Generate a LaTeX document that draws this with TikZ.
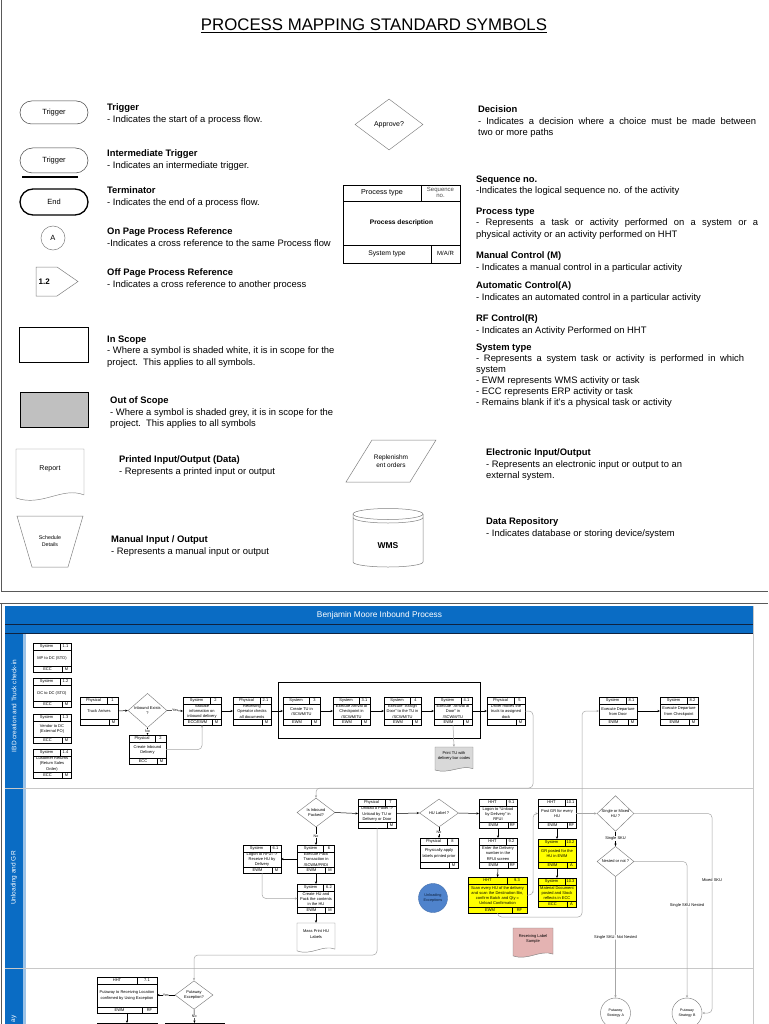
\documentclass[tikz,border=0pt]{standalone}
\usepackage{fontspec}
\setmainfont{Liberation Sans}
\usetikzlibrary{shapes.geometric,arrows.meta,calc}

\definecolor{hdrblue}{HTML}{0A6CC4}
\definecolor{navy}{HTML}{10233F}
\definecolor{lightblue}{HTML}{9CC3E8}
\definecolor{oosgray}{HTML}{C0C0C0}
\definecolor{boxyellow}{HTML}{FFFF00}
\definecolor{pinkdoc}{HTML}{E4B3B2}
\definecolor{excblue}{HTML}{4F83CC}
\definecolor{conngray}{HTML}{A6A6A6}
\definecolor{framec}{HTML}{595959}
\definecolor{lanesep}{HTML}{C8C8C8}
\definecolor{docgray}{HTML}{D9D9D9}

\newcommand{\tf}{\fontsize{4}{5.1}\selectfont}
\newcommand{\lf}{\fontsize{9.4}{11.6}\selectfont}

\tikzset{
  pframe/.style={draw=black, line width=0.45pt, inner sep=0pt, outer sep=0pt},
  pline/.style={draw=black, line width=0.45pt},
  tlabel/.style={font=\tf, inner sep=0pt, align=center},
  arr/.style={-{Stealth[length=2.6pt,width=2.2pt]}, line width=0.5pt},
  garr/.style={-{Stealth[length=2.6pt,width=2.2pt]}, draw=conngray, line width=0.5pt, rounded corners=4pt},
  decn/.style={diamond, draw=gray, line width=0.45pt, inner sep=0pt, font=\tf, align=center, fill=white},
  ylab/.style={font=\fontsize{3.6}{4.2}\selectfont, fill=white, inner sep=0.4pt},
  glab/.style={font=\fontsize{4}{4.8}\selectfont, fill=white, inner sep=0.5pt},
  lgtext/.style={font=\lf, anchor=north west, align=left, inner sep=0pt},
  lgshape/.style={draw=black!75, line width=0.5pt, inner sep=0pt, fill=white, font=\fontsize{7.5}{9}\selectfont},
  lgline/.style={draw=black!75, line width=0.5pt},
  docb/.style={draw=gray, line width=0.45pt},
  pcirc/.style={circle, draw=gray, fill=white, line width=0.45pt, inner sep=0pt, minimum size=30pt, font=\fontsize{3.6}{4.3}\selectfont, align=center}
}

% process box frame: [fill]{name}{x1}{y1}{x2}{y2}
\newcommand{\pboxat}[6][white]{%
  \pgfmathsetmacro{\bwid}{#5-#3}%
  \pgfmathsetmacro{\sw}{\bwid>45 ? 20 : 11}%
  \pgfmathsetmacro{\bw}{\bwid>45 ? 15 : 9}%
  \pgfmathsetmacro{\swh}{\sw/2}%
  \pgfmathsetmacro{\bwh}{\bw/2}%
  \node[pframe, fill=#1, minimum width=\bwid pt, minimum height={(#6-#4)*1pt}] (#2) at ({(#3+#5)/2},{(#4+#6)/2}) {};
  \draw[pline] ([yshift=-7pt]#2.north west) -- ([yshift=-7pt]#2.north east);
  \draw[pline] ([xshift=-\sw pt]#2.north east) -- ([xshift=-\sw pt,yshift=-7pt]#2.north east);
  \draw[pline] ([yshift=6pt]#2.south west) -- ([yshift=6pt]#2.south east);
  \draw[pline] ([xshift=-\bw pt]#2.south east) -- ([xshift=-\bw pt,yshift=6pt]#2.south east);
}
% texts: {name}{type}{seq}{desc}{sys}{ctrl}
\newcommand{\ptxt}[6]{%
  \path ([yshift=-3.5pt]#1.north west) -- ([xshift=-\sw pt,yshift=-3.5pt]#1.north east) node[tlabel,midway] (#1-t) {#2};
  \node[tlabel] (#1-s) at ([xshift=-\swh pt,yshift=-3.5pt]#1.north east) {#3};
  \node[tlabel] (#1-d) at ([yshift=-0.5pt]#1.center) {#4};
  \path ([yshift=3pt]#1.south west) -- ([xshift=-\bw pt,yshift=3pt]#1.south east) node[tlabel,midway] (#1-y) {#5};
  \node[tlabel] (#1-c) at ([xshift=-\bwh pt,yshift=3pt]#1.south east) {#6};
}
% document shape: [fill]{name}{x1}{y1}{x2}{y2}{text}
\newcommand{\docshape}[7][white]{%
  \pgfmathsetmacro{\dw}{#5-#3}%
  \pgfmathsetmacro{\dh}{#6-#4}%
  \pgfmathsetmacro{\dca}{#5-0.32*\dw}%
  \pgfmathsetmacro{\dcb}{#3+0.38*\dw}%
  \pgfmathsetmacro{\dyr}{#6-0.1*\dh}%
  \pgfmathsetmacro{\dyl}{#6-0.04*\dh}%
  \pgfmathsetmacro{\dyca}{#6-0.27*\dh}%
  \pgfmathsetmacro{\dycb}{#6+0.14*\dh}%
  \draw[docb, fill=#1] (#3,#4) -- (#5,#4) -- (#5,\dyr) .. controls (\dca,\dyca) and (\dcb,\dycb) .. (#3,\dyl) -- cycle;
  \node[inner sep=0pt, minimum width=\dw pt, minimum height=\dh pt] (#2) at ({(#3+#5)/2},{(#4+#6)/2}) {};
  \node[tlabel] (#2-t) at ({(#3+#5)/2},{#4+0.38*\dh}) {#7};
}

\begin{document}
\begin{tikzpicture}[x=1pt,y=-1pt]
\path[use as bounding box, fill=white] (0,0) rectangle (768,1024);
\begin{scope}
\clip (0,0) rectangle (768,1024);

%================ LEGEND =================
\draw[framec, line width=0.9pt] (1.2,0) -- (1.2,591) -- (768,591);
\node[font=\fontsize{16.8}{20}\selectfont, inner sep=0pt] (title) at (374,25) {PROCESS MAPPING STANDARD SYMBOLS};
\draw[line width=0.7pt] ([yshift=-1.8pt]title.base west) -- ([yshift=-1.8pt]title.base east);

% left column shapes
\node[lgshape, rounded corners=11.5pt, minimum width=68pt, minimum height=23pt] (lgTrig) at (54,112.5) {Trigger};
\node[lgshape, rounded corners=12.5pt, minimum width=68pt, minimum height=25pt] (lgITrig) at (54,160.5) {Trigger};
\draw[line width=1.1pt] (22,177) -- (78,177);
\node[lgshape, draw=black, line width=1.3pt, rounded corners=13pt, minimum width=68pt, minimum height=26pt] (lgEnd) at (54,202) {End};
\node[lgshape, draw=gray, circle, minimum size=24pt] (lgA) at (53,238) {A};
\draw[lgline, draw=gray] (36,267) -- (57,267) -- (78,281.5) -- (57,296) -- (36,296) -- cycle;
\node[font=\bfseries\fontsize{8}{9}\selectfont, anchor=west, inner sep=0pt] (lgOff) at (38.5,282) {1.2};
\node[draw=black, line width=0.9pt, minimum width=69pt, minimum height=35pt, inner sep=0pt] (lgIn) at (53.5,344.5) {};
\node[draw=black, line width=0.9pt, fill=oosgray, minimum width=68pt, minimum height=35pt, inner sep=0pt] (lgOut) at (54,409.5) {};
\docshape[white]{lgRep}{16}{449}{84}{500}{\fontsize{7}{8}\selectfont Report}
\draw[lgline, draw=gray] (17,516) -- (83,516) -- (68,567) -- (32,567) -- cycle;
\node[font=\fontsize{5.3}{6.5}\selectfont, align=center, inner sep=0pt] (lgMan) at (50,541) {Schedule\\Details};

% left column texts
\node[lgtext] (txTrig) at (107,103.5) {\textbf{Trigger}\\- Indicates the start of a process flow.};
\node[lgtext] (txITrig) at (107,149.5) {\textbf{Intermediate Trigger}\\- Indicates an intermediate trigger.};
\node[lgtext] (txEnd) at (107,186.5) {\textbf{Terminator}\\- Indicates the end of a process flow.};
\node[lgtext] (txOn) at (107,227.5) {\textbf{On Page Process Reference}\\-Indicates a cross reference to the same Process flow};
\node[lgtext] (txOff) at (107,268.5) {\textbf{Off Page Process Reference}\\- Indicates a cross reference to another process};
\node[lgtext] (txIn) at (107,335.5) {\textbf{In Scope}\\- Where a symbol is shaded white, it is in scope for the\\project.\ \ This applies to all symbols.};
\node[lgtext] (txOut) at (110,396.5) {\textbf{Out of Scope}\\- Where a symbol is shaded grey, it is in scope for the\\project.\ \ This applies to all symbols};
\node[lgtext] (txRep) at (119,455.5) {\textbf{Printed Input/Output (Data)}\\- Represents a printed input or output};
\node[lgtext] (txMan) at (111,535.5) {\textbf{Manual Input / Output}\\- Represents a manual input or output};

% right column shapes
\node[decn, minimum width=68pt, minimum height=51pt, font=\fontsize{7}{8}\selectfont] (lgDec) at (389,124.5) {Approve?};
\node[draw=black, line width=0.6pt, minimum width=117pt, minimum height=78pt, inner sep=0pt] (lgP) at (401.5,224) {};
\draw[line width=0.6pt] (343,201) -- (460,201);
\draw[line width=0.6pt] (343,245) -- (460,245);
\draw[line width=0.6pt] (421,185) -- (421,201);
\draw[line width=0.6pt] (431,245) -- (431,263);
\node[font=\fontsize{7.2}{8}\selectfont, inner sep=0pt] (lgPt) at (382,193) {Process type};
\node[font=\fontsize{6}{6.4}\selectfont, inner sep=0pt, align=center, text=black!70] (lgPs) at (440.5,192.5) {Sequence\\no.};
\node[font=\bfseries\fontsize{6.6}{8}\selectfont, inner sep=0pt] (lgPd) at (401.5,223) {Process description};
\node[font=\fontsize{6.8}{8}\selectfont, inner sep=0pt] (lgPy) at (387,254) {System type};
\node[font=\fontsize{6}{7}\selectfont, inner sep=0pt] (lgPc) at (445.5,253.5) {M/A/R};
\draw[lgline, draw=gray] (372,440) -- (436,440) -- (410,482) -- (346,482) -- cycle;
\node[font=\fontsize{6.5}{7.6}\selectfont, align=center, inner sep=0pt] (lgEl) at (391,461) {Replenishm\\ent orders};
\draw[lgline, draw=gray, fill=white] (353,514) -- (353,562) arc[start angle=180, end angle=0, x radius=35, y radius=5] -- (423,514);
\draw[lgline, draw=gray] (388,514) ellipse [x radius=35, y radius=5.5];
\draw[lgline, draw=gray] (353,517.5) arc[start angle=180, end angle=0, x radius=35, y radius=5.5];
\node[font=\bfseries\fontsize{8.5}{10}\selectfont, inner sep=0pt] (lgDb) at (388,546) {WMS};

% right column texts
\node[lgtext] (txDec) at (478,105.5) {\textbf{Decision}\\\makebox[278pt][s]{- Indicates a decision where a choice must be made between}\\two or more paths};
\node[lgtext] (txSeq) at (476,175.5) {\textbf{Sequence no.}\\-Indicates the logical sequence no. of the activity};
\node[lgtext] (txPt) at (476,207.5) {\textbf{Process type}\\\makebox[282pt][s]{- Represents a task or activity performed on a system or a}\\physical activity or an activity performed on HHT};
\node[lgtext] (txMC) at (476,251.5) {\textbf{Manual Control (M)}\\- Indicates a manual control in a particular activity};
\node[lgtext] (txAC) at (476,281.5) {\textbf{Automatic Control(A)}\\- Indicates an automated control in a particular activity};
\node[lgtext] (txRF) at (476,314.5) {\textbf{RF Control(R)}\\- Indicates an Activity Performed on HHT};
\node[lgtext, font=\fontsize{9.4}{11.1}\selectfont] (txST) at (476,343.5) {\textbf{System type}\\\makebox[268pt][s]{- Represents a system task or activity is performed in which}\\system\\- EWM represents WMS activity or task\\- ECC represents ERP activity or task\\- Remains blank if it's a physical task or activity};
\node[lgtext] (txEl) at (486,448.5) {\textbf{Electronic Input/Output}\\- Represents an electronic input or output to an\\external system.};
\node[lgtext] (txDb) at (486,517.5) {\textbf{Data Repository}\\- Indicates database or storing device/system};

%================ PROCESS =================
\draw[framec, line width=0.9pt] (0,603) -- (768,603);
\draw[framec, line width=0.9pt] (1.2,603) -- (1.2,1024);
\fill[hdrblue] (5,606) rectangle (753,634);
\draw[navy, line width=1pt] (5,624.5) -- (753,624.5);
\draw[navy, line width=1pt] (5,633.5) -- (753,633.5);
\node[text=white, font=\fontsize{8.3}{10}\selectfont, inner sep=0pt] (hdr) at (379.5,615) {Benjamin Moore Inbound Process};
\fill[hdrblue] (5,634) rectangle (23,1024);
\fill[lightblue] (23,634) rectangle (25.5,1024);
\draw[lanesep, line width=1pt] (5,788) -- (753,788);
\draw[lanesep, line width=1pt] (5,968) -- (753,968);
\draw[lanesep, line width=0.8pt] (753,606) -- (753,1024);
\node[rotate=90, text=white, font=\fontsize{6.5}{8}\selectfont, inner sep=0pt] (lane1) at (14,706) {IBD creation and Truck check-in};
\node[rotate=90, text=white, font=\fontsize{6.5}{8}\selectfont, inner sep=0pt] (lane2) at (14,878) {Unloading and GR};
\node[rotate=90, text=white, font=\fontsize{6.5}{8}\selectfont, inner sep=0pt, anchor=west] (lane3) at (14,1022.5) {ay};

% ---- lane 1
\pboxat{b11}{33}{643}{71}{672}\ptxt{b11}{System}{1.1}{MP to DC (STO)}{ECC}{M}
\pboxat{b12}{33}{678}{71}{707}\ptxt{b12}{System}{1.2}{DC to DC (STO)}{ECC}{M}
\pboxat{b13}{33}{714}{71}{743}\ptxt{b13}{System}{1.3}{Vendor to DC\\(External PO)}{ECC}{M}
\pboxat{b14}{33}{749}{71}{778}\ptxt{b14}{System}{1.4}{Customer Returns\\(Return Sales\\Order)}{ECC}{M}
\pboxat{p1}{80}{697}{118}{725}\ptxt{p1}{Physical}{1}{Truck Arrives}{}{M}
\node[decn, minimum width=39pt, minimum height=29pt] (dInb) at (147.5,710.5) {Inbound Exists\\?};
\pboxat{s2}{183}{697}{221}{725}\ptxt{s2}{System}{2}{Validate\\information on\\inbound delivery}{ECC/EWM}{M}
\pboxat{p2}{129}{735}{166}{764}\ptxt{p2}{Physical}{2}{Create Inbound\\Delivery}{ECC}{M}
\pboxat{p21}{233}{697}{271}{725}\ptxt{p21}{Physical}{2.1}{Receiving\\Operator checks\\all documents}{}{M}
\node[draw=black, line width=0.5pt, minimum width=202pt, minimum height=56pt, inner sep=0pt] (grpTU) at (379,710) {};
\pboxat{s3}{283}{697}{320}{725}\ptxt{s3}{System}{3}{Create TU in\\/SCWM/TU}{EWM}{M}
\pboxat{s31}{333}{697}{370}{725}\ptxt{s31}{System}{3.1}{Execute Arrival at\\Checkpoint in\\/SCWM/TU}{EWM}{M}
\pboxat{s4}{384}{697}{421}{725}\ptxt{s4}{System}{4}{Execute ``Assign\\Door'' to the TU in\\/SCWM/TU}{EWM}{M}
\pboxat{s41}{434}{697}{472}{725}\ptxt{s41}{System}{4.1}{Execute ``Arrival at\\Door'' in\\/SCWM/TU}{EWM}{M}
\pboxat{p5}{487}{697}{525}{725}\ptxt{p5}{Physical}{5}{Driver moves the\\truck to assigned\\dock}{}{M}
\docshape[docgray]{printTU}{435}{747}{473}{771}{Print TU with\\delivery bar codes}
\pboxat{s81}{599}{697}{637}{725}\ptxt{s81}{System}{8.1}{Execute Departure\\from Door}{EWM}{M}
\pboxat{s82}{660}{697}{698}{725}\ptxt{s82}{System}{8.2}{Execute Departure\\from Checkpoint}{EWM}{M}

\draw[arr] (p1.east) -- (dInb.west);
\draw[arr] (dInb.east) -- node[ylab] (yInb) {Yes} (s2.west);
\draw[arr] (dInb.south) -- node[ylab, pos=0.45] (nInb) {No} (p2.north);
\draw[garr] (p2.east) -| (s2.south);
\draw[arr] (s2.east) -- (p21.west);
\draw[arr] (p21.east) -- (s3.west);
\draw[arr] (s3.east) -- (s31.west);
\draw[arr] (s31.east) -- (s4.west);
\draw[arr] (s4.east) -- (s41.west);
\draw[arr] (s41.east) -- (p5.west);
\draw[garr] (s41.south) -- (printTU.north);
\draw[arr] (s81.east) -- (s82.west);

% ---- lane 2
\node[decn, minimum width=38pt, minimum height=29pt] (dPack) at (316,812.5) {Is Inbound\\Packed?};
\pboxat{s6}{297.5}{845}{334.5}{873}\ptxt{s6}{System}{6}{Execute Pack\\Transaction in\\/SCWM/PRDI}{EWM}{M}
\pboxat{s61}{243}{845}{281}{873}\ptxt{s61}{System}{6.1}{Logon to RFUI ->\\Receive HU by\\Delivery}{EWM}{M}
\pboxat{s62}{297.5}{884}{334.5}{913}\ptxt{s62}{System}{6.2}{Create HU and\\Pack the contents\\in the HU}{EWM}{M}
\docshape[white]{massPrint}{297}{923}{335}{952}{Mass Print HU\\Labels}
\pboxat{p7}{358}{799}{396}{828}\ptxt{p7}{Physical}{7}{Unload a Pallet ->\\Unload by TU or\\Delivery or Door}{}{M}
\node[decn, minimum width=39pt, minimum height=28pt] (dHU) at (439,813) {HU Label ?};
\pboxat{p8}{420}{838}{458}{868}\ptxt{p8}{Physical}{8}{Physically apply\\labels printed prior}{}{M}
\node[circle, fill=excblue, draw=excblue!85!black, line width=0.4pt, minimum size=29pt, inner sep=0pt, font=\fontsize{3.8}{4.5}\selectfont, text=navy, align=center] (cExc) at (433,898) {Unloading\\Exceptions};
\pboxat{h91}{479}{799}{517}{828}\ptxt{h91}{HHT}{9.1}{Logon to ``Unload\\by Delivery'' in\\RFUI}{EWM}{RF}
\pboxat{h92}{479}{838}{517}{868}\ptxt{h92}{HHT}{9.2}{Enter the Delivery\\number in the\\RFUI screen}{EWM}{RF}
\pboxat[boxyellow]{h93}{468}{877}{527}{913}\ptxt{h93}{HHT}{9.3}{Scan every HU of the delivery\\and scan the Destination Bin,\\confirm Batch and Qty =\\Unload Confirmation}{EWM}{RF}
\docshape[pinkdoc]{recvLbl}{513}{928}{553}{957}{Receiving Label\\Sample}
\pboxat{h101}{538}{799}{576}{828}\ptxt{h101}{HHT}{10.1}{Post GR for every\\HU}{EWM}{RF}
\pboxat[boxyellow]{s102}{538}{839}{576}{868}\ptxt{s102}{System}{10.2}{GR posted for the\\HU in EWM}{EWM}{A}
\pboxat[boxyellow]{s103}{538}{878}{576}{907}\ptxt{s103}{System}{10.3}{Material Document\\posted and Stock\\reflects in ECC}{ECC}{A}
\node[decn, minimum width=37pt, minimum height=29pt] (dSM) at (615.5,813.5) {Single or Mixed\\HU ?};
\node[decn, minimum width=37pt, minimum height=29pt] (dNest) at (615.5,861.5) {Nested or not ?};

% ---- lane 3
\node[decn, minimum width=38pt, minimum height=28pt] (dPut) at (194,995) {Putaway\\Exception?};
\pboxat{h71}{97}{977}{157}{1013}\ptxt{h71}{HHT}{7.1}{Putaway to Receiving Location\\confirmed by Using Exception}{EWM}{RF}
\node[pframe, minimum width=60pt, minimum height=40pt] (bYes) at (127,1043) {};
\node[pframe, minimum width=59pt, minimum height=40pt] (bNo) at (194.5,1043) {};
\draw[pline] (137,1023) -- (137,1030);
\draw[pline] (204,1023) -- (204,1030);
\node[pcirc] (cA) at (615.5,1013) {Putaway\\Strategy A};
\node[pcirc] (cB) at (687,1013) {Putaway\\Strategy B};

% connectors lane 2/3
\coordinate (c5a) at (533,788);
\draw[garr] (p5.east) -| (c5a) -| (dPack.north);
\draw[arr] (dPack.south) -- node[ylab] (nPack) {No} (s6.north);
\draw[arr] (dPack.east) -- (p7.west);
\draw[arr] (s6.west) -- (s61.east);
\draw[arr] (s6.south) -- (s62.north);
\draw[garr] (s61.south) |- (s62.west);
\draw[arr] (s62.south) -- (massPrint.north);
\draw[arr] (p7.east) -- (dHU.west);
\draw[arr] (dHU.south) -- node[ylab] (nHU) {No} (p8.north);
\draw[arr] (dHU.east) -- (h91.west);
\draw[arr] (h91.south) -- (h92.north);
\draw[arr] (h92.south) -- (h93.north);
\coordinate (c93r) at (533,895);
\draw[garr] (h93.east) -| (c93r) |- (h101.west);
\coordinate (c93) at (582,917);
\draw[garr] (h93.south) |- (c93) |- (s81.west);
\draw[arr] (h101.south) -- (s102.north);
\draw[arr] (s102.south) -- (s103.north);
\draw[garr] (h101.east) -- (dSM.west);
\draw[arr] (dSM.south) -- node[glab] (lSS) {Single SKU} (dNest.north);
\draw[garr] (dNest.south) -- node[glab, pos=0.5] (lNN) {Single SKU: Not Nested} (cA.north);
\draw[garr] (dNest.east) -| node[glab, pos=0.66] (lSN) {Single SKU Nested} (cB.north);
\coordinate (cMix) at (712,1013);
\draw[garr] (dSM.east) -| (cMix) -- (cB.east);
\node[glab] (lMix) at (712,880) {Mixed SKU};
\coordinate (cPut) at (377,955);
\draw[garr] (p7.south) -- (cPut) -| (dPut.north);
\draw[arr] (dPut.west) -- node[ylab] (yPut) {Yes} (h71.east);
\draw[arr] (dPut.south) -- node[ylab] (nPut) {No} (bNo.north);
\draw[arr] (h71.south) -- (bYes.north);

\end{scope}
\end{tikzpicture}
\end{document}
